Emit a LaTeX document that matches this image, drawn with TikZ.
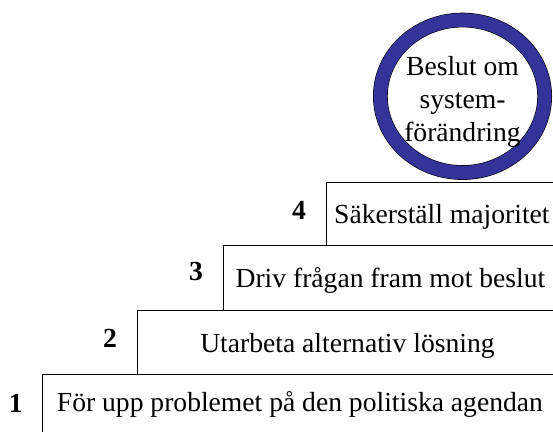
\documentclass[tikz,border=0pt]{standalone}
\usepackage{fontspec}
\setmainfont{Liberation Serif}
\usetikzlibrary{positioning,shapes.geometric}
\definecolor{ringblue}{RGB}{51,51,153}
\tikzset{
	stepbox/.style={draw, line width=0.8pt, anchor=north west, inner sep=0pt,
		text height=24.5pt, text depth=5pt},
	stepnum/.style={font=\fontsize{27.6}{33}\selectfont\bfseries, inner sep=0pt}
}
\begin{document}
\begin{tikzpicture}[x=1pt, y=1pt, font=\fontsize{27.6}{33}\selectfont]
	\path[use as bounding box, clip] (0,0) rectangle (553,431);

	%cirkel
	\node[ellipse, draw=black, line width=0.6pt, double=ringblue, double distance=13.5pt,
		minimum width=164.3pt, minimum height=152.5pt, inner sep=0pt] (beslut) at (462.5,334.7) {};
	\node[align=center, inner sep=0pt] (beslutText) at (462.5,329.3) {Beslut om\\system-\\förändring};

	%trappsteg
	\node[stepbox, minimum width=231pt, minimum height=63pt] (box4) at (326,249) {Säkerställ majoritet};
	\node[stepbox, minimum width=334pt, minimum height=65pt] (box3) at (223,186) {Driv frågan fram mot beslut};
	\node[stepbox, minimum width=420pt, minimum height=64pt] (box2) at (137,121) {Utarbeta alternativ lösning};
	\node[stepbox, minimum width=515pt, minimum height=64pt, text depth=14.5pt] (box1) at (42,57)
		{För upp problemet på den politiska agendan};

	%nummer
	\node[stepnum, left=20pt of box4.north west, yshift=-28pt] (n4) {4};
	\node[stepnum, left=20pt of box3.north west, yshift=-26pt] (n3) {3};
	\node[stepnum, left=20pt of box2.north west, yshift=-28pt] (n2) {2};
	\node[stepnum, left=19pt of box1.north west, yshift=-29pt] (n1) {1};
\end{tikzpicture}
\end{document}
